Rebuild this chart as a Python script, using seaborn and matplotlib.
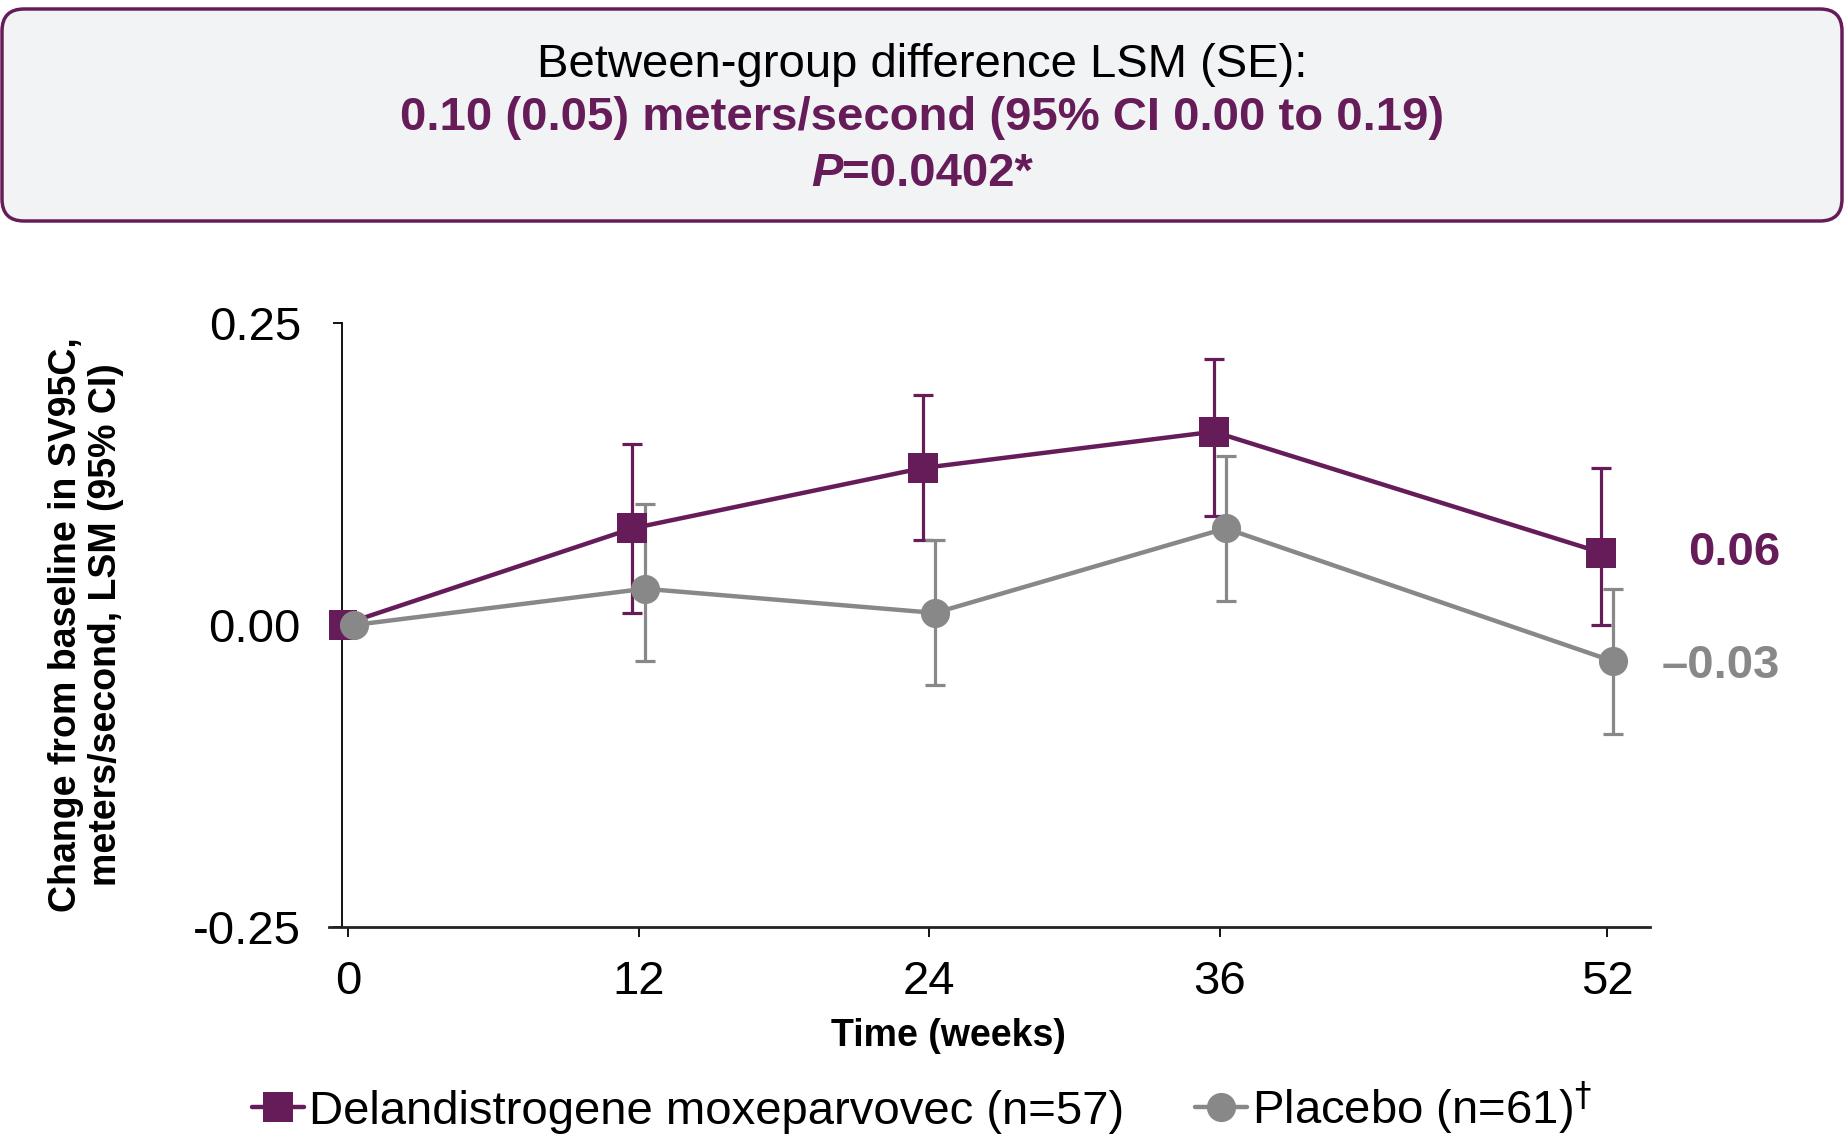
import numpy as np
import pandas as pd
import matplotlib
matplotlib.use("Agg")
import matplotlib.pyplot as plt
import seaborn as sns
from matplotlib.patches import FancyBboxPatch
from matplotlib.transforms import IdentityTransform

# ---------------- data ----------------
weeks = [0, 12, 24, 36, 52]
deland_lsm = [0.00, 0.08, 0.13, 0.16, 0.06]
deland_lo = [0.00, 0.01, 0.07, 0.09, 0.00]
deland_hi = [0.00, 0.15, 0.19, 0.22, 0.13]
placebo_lsm = [0.00, 0.03, 0.01, 0.08, -0.03]
placebo_lo = [0.00, -0.03, -0.05, 0.02, -0.09]
placebo_hi = [0.00, 0.10, 0.07, 0.14, 0.03]
groups = ["Delandistrogene moxeparvovec (n=57)", "Placebo (n=61)"]
legend_labels = ["Delandistrogene moxeparvovec (n=57)", "Placebo (n=61)$^{\\dagger}$"]
x_ticks = [0, 12, 24, 36, 52]
y_ticks = [-0.25, 0.00, 0.25]
y_tick_labels = ["-0.25", "0.00", "0.25"]
header_line1 = "Between-group difference LSM (SE):"
header_line2 = "0.10 (0.05) meters/second (95% CI 0.00 to 0.19)"
header_p = "P"
header_pval = "=0.0402*"
x_label = "Time (weeks)"
y_label = "Change from baseline in SV95C,\nmeters/second, LSM (95% CI)"

# ---------------- style ----------------
PURPLE = "#671C5A"
GREY = "#888888"
BOX_FILL = "#F2F3F5"
palette = {groups[0]: PURPLE, groups[1]: GREY}
dodge = {groups[0]: -0.25, groups[1]: 0.25}
label_nudge = {groups[0]: 0.0, groups[1]: -0.004}

sns.set_style("white")
plt.rcParams["font.family"] = ["Liberation Sans", "DejaVu Sans"]
plt.rcParams["text.color"] = "black"
plt.rcParams["axes.labelcolor"] = "black"
plt.rcParams["xtick.color"] = "black"
plt.rcParams["ytick.color"] = "black"

rows = []
for g, lsm, lo, hi in [(groups[0], deland_lsm, deland_lo, deland_hi),
                       (groups[1], placebo_lsm, placebo_lo, placebo_hi)]:
    for w, m, l, h in zip(weeks, lsm, lo, hi):
        rows.append({"group": g, "week": w, "x": w + dodge[g], "lsm": m, "lo": l, "hi": h})
df = pd.DataFrame(rows)

W, H = 1844, 1142
fig = plt.figure(figsize=(W / 100, H / 100), dpi=100)
ax_l, ax_r, ax_t, ax_b = 329, 1650, 323, 927
ax = fig.add_axes([ax_l / W, 1 - ax_b / H, (ax_r - ax_l) / W, (ax_b - ax_t) / H])

# error bars first
for g in groups:
    d = df[df.group == g]
    ax.errorbar(d["x"], d["lsm"], yerr=[d["lsm"] - d["lo"], d["hi"] - d["lsm"]],
                fmt="none", ecolor=palette[g], elinewidth=2.3, capsize=7,
                capthick=2.3, zorder=2)

sns.lineplot(data=df, x="x", y="lsm", hue="group", style="group",
             hue_order=groups, style_order=groups, palette=palette,
             markers={groups[0]: "s", groups[1]: "o"}, dashes=False,
             markersize=21, linewidth=3.2, markeredgewidth=0,
             errorbar=None, sort=False, ax=ax, zorder=3)

handles, _ = ax.get_legend_handles_labels()
if ax.get_legend() is not None:
    ax.get_legend().remove()

# axes
x0_px = 348.0
px_per_week = (1607.0 - 348.0) / 52.0
ax.set_xlim((ax_l - x0_px) / px_per_week, (ax_r - x0_px) / px_per_week)
ax.set_ylim(-0.25, 0.25)
ax.set_xticks(x_ticks)
ax.set_xticklabels([str(t) for t in x_ticks])
ax.set_yticks(y_ticks)
ax.set_yticklabels(y_tick_labels)
for s in ["top", "right"]:
    ax.spines[s].set_visible(False)
ax.spines["left"].set_position(("data", -0.25))
ax.spines["left"].set_linewidth(1.3)
ax.spines["bottom"].set_linewidth(2.0)
ax.spines["left"].set_color("black")
ax.spines["bottom"].set_color("#222222")
ax.tick_params(axis="y", direction="out", length=6.5, width=1.3, pad=23,
               labelsize=34, color="black", labelcolor="black", left=True)
ax.tick_params(axis="x", direction="out", length=7, width=1.3, pad=17,
               labelsize=34, color="black", labelcolor="black", bottom=True)

ax.set_xlabel(x_label, fontsize=27, fontweight="bold")
ax.xaxis.label.set_va("center")
ax.xaxis.set_label_coords(0.469, -0.180)
ax.set_ylabel(y_label, fontsize=27, fontweight="bold", linespacing=1.12)
ax.yaxis.label.set_va("center")
ax.yaxis.set_label_coords(-0.184, 0.5)

# end labels
end_x = (1780 - x0_px) / px_per_week
for g, lsm, col in [(groups[0], deland_lsm, PURPLE), (groups[1], placebo_lsm, GREY)]:
    v = lsm[-1]
    txt = f"{v:.2f}".replace("-", "\u2013")
    ax.text(end_x, v + label_nudge[g], txt, ha="right", va="center", fontsize=34,
            fontweight="bold", color=col, clip_on=False)

# header box
box = FancyBboxPatch((2, H - 221), W - 4, 212,
                     boxstyle="round,pad=0,rounding_size=22",
                     transform=IdentityTransform(), facecolor=BOX_FILL,
                     edgecolor=PURPLE, linewidth=2.5, zorder=0)
fig.add_artist(box)
fig.text(0.5, 1 - 65 / H, header_line1, ha="center", va="center",
         fontsize=34, color="black")
fig.text(0.5, 1 - 118 / H, header_line2, ha="center", va="center",
         fontsize=34, fontweight="bold", color=PURPLE)
tp = fig.text(0, 1 - 174 / H, header_p, ha="left", va="center", fontsize=34,
              fontweight="bold", fontstyle="italic", color=PURPLE)
tv = fig.text(0, 1 - 174 / H, header_pval, ha="left", va="center", fontsize=34,
              fontweight="bold", color=PURPLE)
fig.canvas.draw()
r = fig.canvas.get_renderer()
wp = tp.get_window_extent(r).width
wv = tv.get_window_extent(r).width
start = W / 2 - (wp + wv) / 2
tp.set_x(start / W)
tv.set_x((start + wp) / W)

# legend
fig.legend(handles, legend_labels, loc="center", bbox_to_anchor=(0.5, 1 - 1108 / H),
           ncol=2, frameon=False, fontsize=34, handlelength=1.1,
           handletextpad=0.1, columnspacing=1.5, borderaxespad=0)

fig.savefig("out.png", dpi=100)
